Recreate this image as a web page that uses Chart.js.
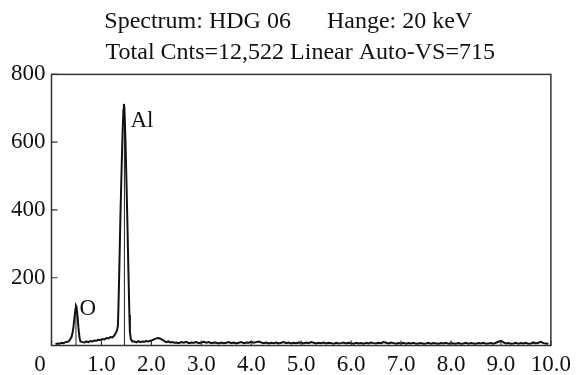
<!DOCTYPE html>
<html>
<head>
<meta charset="UTF-8" />
<title>EDS spectrum HDG 06</title>
<script src="https://cdn.jsdelivr.net/npm/chart.js@4.4.1/dist/chart.umd.min.js"></script>
<style>
  body { margin: 0; background: #fff; }
  canvas { display: block; }
</style>
</head>
<body>
<canvas id="spec" width="577" height="375"></canvas>
<script>
// energy (keV) and counts
var energy = [
  0.08, 0.12, 0.16, 0.20, 0.24, 0.28, 0.32,
  0.34, 0.37, 0.40, 0.42, 0.44, 0.46, 0.48, 0.49, 0.50, 0.52, 0.54, 0.56, 0.58,
  0.62, 0.66, 0.70, 0.74, 0.78, 0.82, 0.86, 0.90, 0.94, 0.98, 1.02, 1.06, 1.10, 1.14, 1.18, 1.22, 1.26, 1.29, 1.31, 1.33,
  1.34, 1.36, 1.38, 1.40, 1.42, 1.44, 1.45, 1.46, 1.48, 1.50, 1.52, 1.54, 1.56, 1.57, 1.59, 1.62,
  1.66, 1.70, 1.74, 1.78, 1.82, 1.86, 1.90, 1.94, 1.98, 2.02, 2.06, 2.10, 2.14, 2.18, 2.22, 2.26, 2.30, 2.34, 2.38, 2.42, 2.46,
  2.50, 2.55, 2.60, 2.65, 2.70, 2.75, 2.80, 2.85, 2.90, 2.95,
  3.00, 3.05, 3.10, 3.15, 3.20, 3.25, 3.30, 3.35, 3.40, 3.45,
  3.50, 3.55, 3.60, 3.65, 3.70, 3.75, 3.80, 3.85, 3.90, 3.95,
  4.00, 4.05, 4.10, 4.15, 4.20, 4.25, 4.30, 4.35, 4.40, 4.45,
  4.50, 4.55, 4.60, 4.65, 4.70, 4.75, 4.80, 4.85, 4.90, 4.95,
  5.00, 5.05, 5.10, 5.15, 5.20, 5.25, 5.30, 5.35, 5.40, 5.45,
  5.50, 5.55, 5.60, 5.65, 5.70, 5.75, 5.80, 5.85, 5.90, 5.95,
  6.00, 6.05, 6.10, 6.15, 6.20, 6.25, 6.30, 6.35, 6.40, 6.45,
  6.50, 6.55, 6.60, 6.65, 6.70, 6.75, 6.80, 6.85, 6.90, 6.95,
  7.00, 7.05, 7.10, 7.15, 7.20, 7.25, 7.30, 7.35, 7.40, 7.45,
  7.50, 7.55, 7.60, 7.65, 7.70, 7.75, 7.80, 7.85, 7.90, 7.95,
  8.00, 8.05, 8.10, 8.15, 8.20, 8.25, 8.30, 8.35, 8.40, 8.45,
  8.50, 8.55, 8.60, 8.65, 8.70, 8.75, 8.80, 8.85, 8.90, 8.95,
  9.00, 9.05, 9.10, 9.15, 9.20, 9.25, 9.30, 9.35, 9.40, 9.45,
  9.50, 9.55, 9.60, 9.65, 9.70, 9.75, 9.80, 9.85, 9.90, 9.95
];
var counts = [
  4, 6, 5, 8, 7, 10, 11,
  12, 17, 25, 36, 55, 82, 108, 117, 114, 88, 52, 24, 12,
  10, 9, 12, 10, 13, 12, 15, 14, 17, 16, 19, 18, 22, 21, 25, 24, 30, 38, 44, 58,
  110, 240, 380, 500, 610, 695, 713, 700, 610, 490, 360, 220, 90, 40, 18, 12,
  12, 9, 13, 10, 12, 11, 13, 12, 14, 16, 19, 21, 22, 20, 17, 13, 10, 12, 9, 10, 8,
  9, 7, 10, 8, 11, 7, 9, 8, 10, 7,
  9, 11, 8, 10, 7, 9, 8, 6, 9, 7,
  8, 10, 7, 9, 6, 8, 10, 7, 9, 8,
  11, 8, 10, 12, 9, 7, 9, 6, 8, 7,
  9, 6, 8, 10, 7, 9, 6, 8, 7, 9,
  8, 6, 9, 7, 10, 8, 6, 8, 7, 9,
  6, 8, 7, 5, 8, 6, 7, 9, 6, 8,
  7, 5, 8, 6, 7, 5, 8, 6, 9, 7,
  6, 8, 7, 10, 8, 6, 9, 7, 5, 7,
  6, 8, 5, 7, 6, 8, 5, 6, 7, 5,
  6, 8, 5, 7, 6, 5, 7, 6, 8, 5,
  7, 6, 5, 7, 5, 6, 8, 5, 7, 6,
  5, 7, 6, 8, 5, 6, 7, 5, 8, 11,
  14, 9, 6, 7, 5, 6, 8, 5, 7, 6,
  8, 5, 6, 9, 6, 8, 11, 7, 6, 5
];

// element markers
var peakNames = ["O", "Al"];
var peakEnergy = [0.49, 1.46];
var peakTop = [117, 705];
var labelEnergy = [0.56, 1.58];
var labelCounts = [108, 662];

var titleLines = ["    Spectrum: HDG 06      Hange: 20 keV", "        Total Cnts=12,522 Linear Auto-VS=715"];
var xTicks = [0, 1, 2, 3, 4, 5, 6, 7, 8, 9, 10];
var yTicks = [200, 400, 600, 800];

var serif = '"Liberation Serif", "Times New Roman", serif';

var spectrum = energy.map(function (e, i) { return { x: e, y: counts[i] }; });
var markerSets = peakEnergy.map(function (e, i) {
    return {
        data: [{ x: e, y: 0 }, { x: e, y: peakTop[i] }],
        borderColor: "#222",
        borderWidth: 1,
        pointRadius: 0,
        showLine: true
    };
});

var framePlugin = {
    id: "frame",
    afterDatasetsDraw: function (chart) {
        var ctx = chart.ctx, a = chart.chartArea;
        var sx = chart.scales.x, sy = chart.scales.y;
        ctx.save();
        ctx.strokeStyle = "#333";
        ctx.lineWidth = 1.5;
        ctx.strokeRect(a.left, a.top, a.right - a.left, a.bottom - a.top);
        ctx.lineWidth = 1.2;
        ctx.beginPath();
        xTicks.forEach(function (v) {
            var px = sx.getPixelForValue(v);
            ctx.moveTo(px, a.bottom);
            ctx.lineTo(px, a.bottom - 5);
        });
        yTicks.forEach(function (v) {
            var py = sy.getPixelForValue(v);
            ctx.moveTo(a.left, py);
            ctx.lineTo(a.left + 6, py);
        });
        ctx.stroke();
        ctx.fillStyle = "#111";
        ctx.font = "23px " + serif;
        ctx.textAlign = "left";
        ctx.textBaseline = "middle";
        peakNames.forEach(function (n, i) {
            ctx.fillText(n, sx.getPixelForValue(labelEnergy[i]), sy.getPixelForValue(labelCounts[i]));
        });
        ctx.restore();
    }
};

new Chart(document.getElementById("spec"), {
    type: "scatter",
    data: {
        datasets: [{
            data: spectrum,
            borderColor: "#111",
            borderWidth: 2,
            pointRadius: 0,
            showLine: true,
            tension: 0
        }].concat(markerSets)
    },
    options: {
        responsive: false,
        animation: false,
        devicePixelRatio: 1,
        layout: { padding: { left: 0, right: 24.5, top: 0, bottom: 0 } },
        plugins: {
            legend: { display: false },
            tooltip: { enabled: false },
            title: {
                display: true,
                text: titleLines,
                color: "#111",
                font: { family: serif, size: 24, weight: "normal", lineHeight: 1.3 },
                padding: { top: 6, bottom: 6 }
            }
        },
        scales: {
            x: {
                type: "linear",
                min: 0,
                max: 10,
                afterBuildTicks: function (s) { s.ticks = xTicks.map(function (v) { return { value: v }; }); },
                afterFit: function (s) { s.height = 29.5; },
                grid: { display: false, drawTicks: false },
                border: { display: false },
                ticks: {
                    color: "#111",
                    padding: 6,
                    maxRotation: 0,
                    font: { family: serif, size: 23 },
                    callback: function (v) { return v === 0 ? "0    " : v.toFixed(1); }
                }
            },
            y: {
                min: 0,
                max: 800,
                afterBuildTicks: function (s) { s.ticks = yTicks.map(function (v) { return { value: v }; }); },
                afterFit: function (s) { s.width = 51.5; },
                grid: { display: false, drawTicks: false },
                border: { display: false },
                ticks: {
                    color: "#111",
                    padding: 6,
                    font: { family: serif, size: 23 }
                }
            }
        }
    },
    plugins: [framePlugin]
});
</script>
</body>
</html>
